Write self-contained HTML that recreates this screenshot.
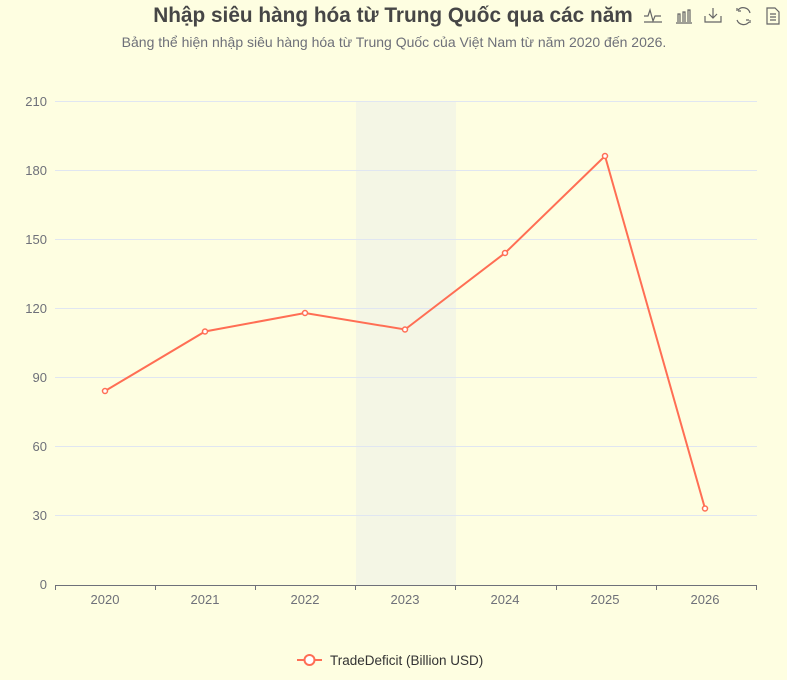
<!DOCTYPE html>
<html><head><meta charset="utf-8"><style>
body{margin:0;background:#fefee1;}
</style></head><body>
<svg width="787" height="675" xmlns="http://www.w3.org/2000/svg" font-family="'Liberation Sans', 'DejaVu Sans', sans-serif">
<rect width="787" height="675" fill="#fefee1"/>
<text x="393" y="22" text-anchor="middle" font-size="20.8" font-weight="bold" fill="#464646">Nhập siêu hàng hóa từ Trung Quốc qua các năm</text>
<text x="394" y="47" text-anchor="middle" font-size="14" fill="#6e7079">Bảng thể hiện nhập siêu hàng hóa từ Trung Quốc của Việt Nam từ năm 2020 đến 2026.</text>
<g stroke="#666" fill="none" stroke-width="1.2">
<path d="M644 16h4l2-6 3 11 2-5h6"/><path d="M644 22h18" />
<path d="M676 23h16M678 22v-8h2v8M683 22v-10h2v10M688 22v-12h2v12"/>
<path d="M713 8v10M709 14l4 4 4-4M705 16v6h16v-6"/>
<path d="M750 13a7 7 0 0 0-12-3M737 11v-3M738 11h3M737 20a7 7 0 0 0 12 2M750 20v3M749 20h-3"/>
<path d="M767 8h8l4 4v12h-12zM770 14h6M770 17h6M770 20h6"/>
</g>
<rect x="356" y="101" width="100" height="484" fill="#f4f6e5"/>
<g stroke="#e0e6f1" stroke-width="1">
<line x1="55" x2="757" y1="101.5" y2="101.5"/><line x1="55" x2="757" y1="170.5" y2="170.5"/>
<line x1="55" x2="757" y1="239.5" y2="239.5"/><line x1="55" x2="757" y1="308.5" y2="308.5"/>
<line x1="55" x2="757" y1="377.5" y2="377.5"/><line x1="55" x2="757" y1="446.5" y2="446.5"/>
<line x1="55" x2="757" y1="515.5" y2="515.5"/>
</g>
<g stroke="#6e7079"><line x1="55" x2="757" y1="585.5" y2="585.5"/>
<path d="M55.5 585v5M155.5 585v5M255.5 585v5M355.5 585v5M455.5 585v5M556.5 585v5M656.5 585v5M756.5 585v5"/></g>
<g font-size="13" fill="#6e7079" text-anchor="end">
<text x="47" y="106">210</text><text x="47" y="175">180</text><text x="47" y="244">150</text>
<text x="47" y="313">120</text><text x="47" y="382">90</text><text x="47" y="451">60</text>
<text x="47" y="520">30</text><text x="47" y="589">0</text></g>
<g font-size="13" fill="#6e7079" text-anchor="middle">
<text x="105" y="604">2020</text><text x="205" y="604">2021</text><text x="305" y="604">2022</text>
<text x="405" y="604">2023</text><text x="505" y="604">2024</text><text x="605" y="604">2025</text><text x="705" y="604">2026</text></g>
<polyline points="105,391 205,331.5 305,313 405,329.5 505,253 605,156 705,508.5" fill="none" stroke="#ff6e54" stroke-width="2"/>
<g fill="#fff" stroke="#ff6e54" stroke-width="1.5">
<circle cx="105" cy="391" r="2.5"/><circle cx="205" cy="331.5" r="2.5"/><circle cx="305" cy="313" r="2.5"/>
<circle cx="405" cy="329.5" r="2.5"/><circle cx="505" cy="253" r="2.5"/><circle cx="605" cy="156" r="2.5"/><circle cx="705" cy="508.5" r="2.5"/></g>
<line x1="297" x2="322" y1="660" y2="660" stroke="#ff6e54" stroke-width="2"/>
<circle cx="309.5" cy="660" r="5" fill="#fff" stroke="#ff6e54" stroke-width="2"/>
<text x="330" y="665" font-size="13.5" fill="#333">TradeDeficit (Billion USD)</text>
</svg>
</body></html>
